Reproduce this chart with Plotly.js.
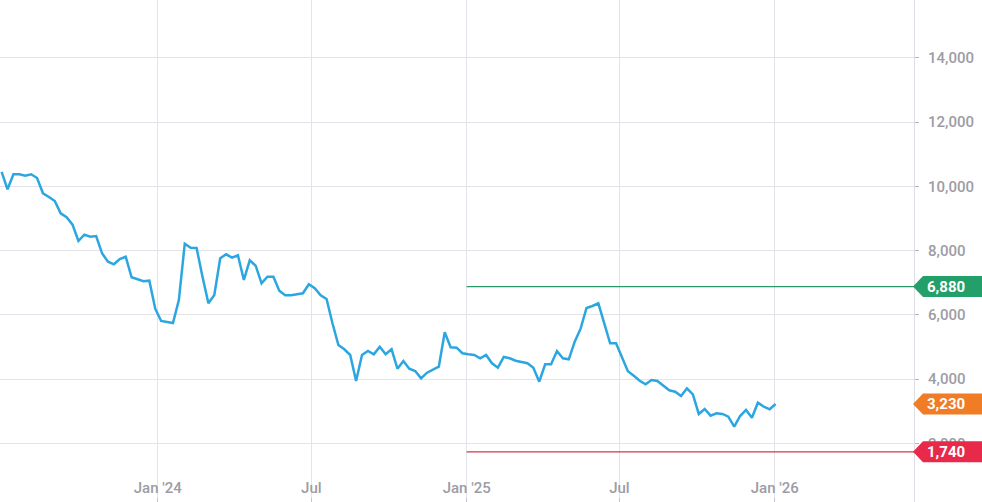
<!DOCTYPE html>
<html>
<head>
<meta charset="utf-8">
<script src="https://cdn.plot.ly/plotly-3.0.1.min.js"></script>
<style>
  html, body { margin: 0; padding: 0; background: #ffffff; }
  #chart { width: 982px; height: 502px; }
</style>
</head>
<body>
<div id="chart"></div>
<script>
// ---- data ----
const dates = [
  "2023-06-30","2023-07-07","2023-07-14","2023-07-21","2023-07-28","2023-08-04","2023-08-11","2023-08-18","2023-08-25",
  "2023-09-01","2023-09-08","2023-09-15","2023-09-22","2023-09-29","2023-10-06","2023-10-13","2023-10-20","2023-10-27",
  "2023-11-03","2023-11-10","2023-11-17","2023-11-24","2023-12-01","2023-12-08","2023-12-15","2023-12-22","2023-12-29",
  "2024-01-05","2024-01-12","2024-01-19","2024-01-26","2024-02-02","2024-02-09","2024-02-16","2024-02-23","2024-03-01",
  "2024-03-08","2024-03-15","2024-03-22","2024-03-29","2024-04-05","2024-04-12","2024-04-19","2024-04-26","2024-05-03",
  "2024-05-10","2024-05-17","2024-05-24","2024-05-31","2024-06-07","2024-06-14","2024-06-21","2024-06-28","2024-07-05",
  "2024-07-12","2024-07-19","2024-07-26","2024-08-02","2024-08-09","2024-08-16","2024-08-23","2024-08-30","2024-09-06",
  "2024-09-13","2024-09-20","2024-09-27","2024-10-04","2024-10-11","2024-10-18","2024-10-25","2024-11-01","2024-11-08",
  "2024-11-15","2024-11-22","2024-11-29","2024-12-06","2024-12-13","2024-12-20","2024-12-27","2025-01-03","2025-01-10",
  "2025-01-17","2025-01-24","2025-01-31","2025-02-07","2025-02-14","2025-02-21","2025-02-28","2025-03-07","2025-03-14",
  "2025-03-21","2025-03-28","2025-04-04","2025-04-11","2025-04-18","2025-04-25","2025-05-02","2025-05-09","2025-05-16",
  "2025-05-23","2025-05-30","2025-06-06","2025-06-13","2025-06-20","2025-06-27","2025-07-04","2025-07-11","2025-07-18",
  "2025-07-25","2025-08-01","2025-08-08","2025-08-15","2025-08-22","2025-08-29","2025-09-05","2025-09-12","2025-09-19",
  "2025-09-26","2025-10-03","2025-10-10","2025-10-17","2025-10-24","2025-10-31","2025-11-07","2025-11-14","2025-11-21",
  "2025-11-28","2025-12-05","2025-12-12","2025-12-19","2025-12-26","2026-01-02"
];
const values = [
  10450, 9907, 10373, 10373, 10330, 10373, 10258, 9782, 9667,
  9543, 9160, 9036, 8806, 8299, 8495, 8432, 8454, 7916,
  7655, 7574, 7739, 7810, 7170, 7095, 7045, 7064, 6193,
  5810, 5779, 5748, 6463, 8215, 8090, 8081, 7188, 6361,
  6619, 7760, 7885, 7779, 7854, 7086, 7698, 7530, 6983,
  7188, 7188, 6753, 6610, 6610, 6641, 6672, 6952, 6827,
  6613, 6495, 5739, 5064, 4930, 4753, 3944, 4753, 4877,
  4774, 5011, 4774, 4930, 4327, 4566, 4327, 4255, 4028,
  4202, 4286, 4389, 5459, 4992, 4980, 4806, 4774, 4753,
  4650, 4753, 4495, 4358, 4691, 4650, 4575, 4544, 4495,
  4358, 3922, 4463, 4463, 4877, 4650, 4619, 5166, 5571,
  6215, 6277, 6361, 5739, 5117, 5117, 4684, 4246, 4109,
  3953, 3841, 3975, 3944, 3810, 3655, 3611, 3477, 3717,
  3530, 2918, 3073, 2865, 2939, 2918, 2834, 2523, 2855,
  3042, 2802, 3269, 3145, 3064, 3230
];
const xTickVals = ["2024-01-01", "2024-07-01", "2025-01-01", "2025-07-01", "2026-01-01"];
const xTickText = ["Jan '24", "Jul", "Jan '25", "Jul", "Jan '26"];
const yTickVals = [2000, 4000, 6000, 8000, 10000, 12000, 14000];
const refStart = "2025-01-01";
const refValues = [6880, 1740];
const refLabels = ["6,880", "1,740"];
const lastValue = 3230;
const lastLabel = "3,230";

// ---- styles ----
const xRange = ["2023-06-28 02:00:00", "2026-06-15 00:00:00"];
const yRange = [180, 15795];
const gridColor = "#e3e3e9";
const tickFontColor = "#9c9ca5";
const lineBlue = "#2ca6e0";
const refLineColors = ["#2a9a68", "#d8324d"];
const tagColors = ["#23a06a", "#e8294a"];
const orangeTag = "#f07d25";

function tagShape(yVal, color) {
  return {
    type: "path",
    xref: "paper", yref: "y",
    xsizemode: "pixel", ysizemode: "pixel",
    xanchor: 1, yanchor: yVal,
    path: "M -1,0 L 9,10.5 L 70,10.5 L 70,-10.5 L 9,-10.5 Z",
    fillcolor: color,
    line: { width: 0 },
    layer: "above"
  };
}
function tagText(yVal, label) {
  return {
    xref: "paper", yref: "y", x: 1, y: yVal,
    xanchor: "left", yanchor: "middle", xshift: 11,
    text: label, showarrow: false,
    font: { family: "Roboto, Arial, sans-serif", size: 15, color: "#ffffff", weight: 700 }
  };
}

const shapes = [];
const annotations = [];
refValues.forEach((v, i) => {
  shapes.push({
    type: "line", xref: "x", yref: "y",
    x0: refStart, x1: xRange[1], y0: v, y1: v,
    line: { color: refLineColors[i], width: 1.3 },
    layer: "above"
  });
});
refValues.forEach((v, i) => {
  shapes.push(tagShape(v, tagColors[i]));
  annotations.push(tagText(v, refLabels[i]));
});
shapes.push(tagShape(lastValue, orangeTag));
annotations.push(tagText(lastValue, lastLabel));

const trace = {
  type: "scatter",
  mode: "lines",
  x: dates,
  y: values,
  line: { color: lineBlue, width: 2.5, shape: "linear" },
  hoverinfo: "skip"
};

const layout = {
  width: 982,
  height: 502,
  margin: { l: 0, r: 68, t: 0, b: 0, pad: 0 },
  paper_bgcolor: "#ffffff",
  plot_bgcolor: "#ffffff",
  showlegend: false,
  xaxis: {
    type: "date",
    range: xRange,
    tickmode: "array",
    tickvals: xTickVals,
    ticktext: xTickText,
    showgrid: true,
    gridcolor: gridColor,
    gridwidth: 1,
    zeroline: false,
    showline: false,
    ticks: "inside",
    ticklen: 4,
    tickcolor: "#c4c4cc",
    ticklabelposition: "inside",
    ticklabelstandoff: 2,
    tickfont: { family: "Roboto, Arial, sans-serif", size: 15, color: tickFontColor, weight: 500 },
    fixedrange: true
  },
  yaxis: {
    side: "right",
    range: yRange,
    tickmode: "array",
    tickvals: yTickVals,
    tickformat: ",",
    showgrid: true,
    gridcolor: gridColor,
    gridwidth: 1,
    zeroline: false,
    showline: true,
    linecolor: "#dedee6",
    linewidth: 1,
    ticks: "outside",
    ticklen: 4,
    tickcolor: "#b4b4bc",
    ticklabelstandoff: 6,
    tickfont: { family: "Roboto, Arial, sans-serif", size: 15, color: tickFontColor, weight: 500 },
    fixedrange: true
  },
  shapes: shapes,
  annotations: annotations
};

Plotly.newPlot("chart", [trace], layout, { staticPlot: true, displayModeBar: false });
</script>
</body>
</html>
